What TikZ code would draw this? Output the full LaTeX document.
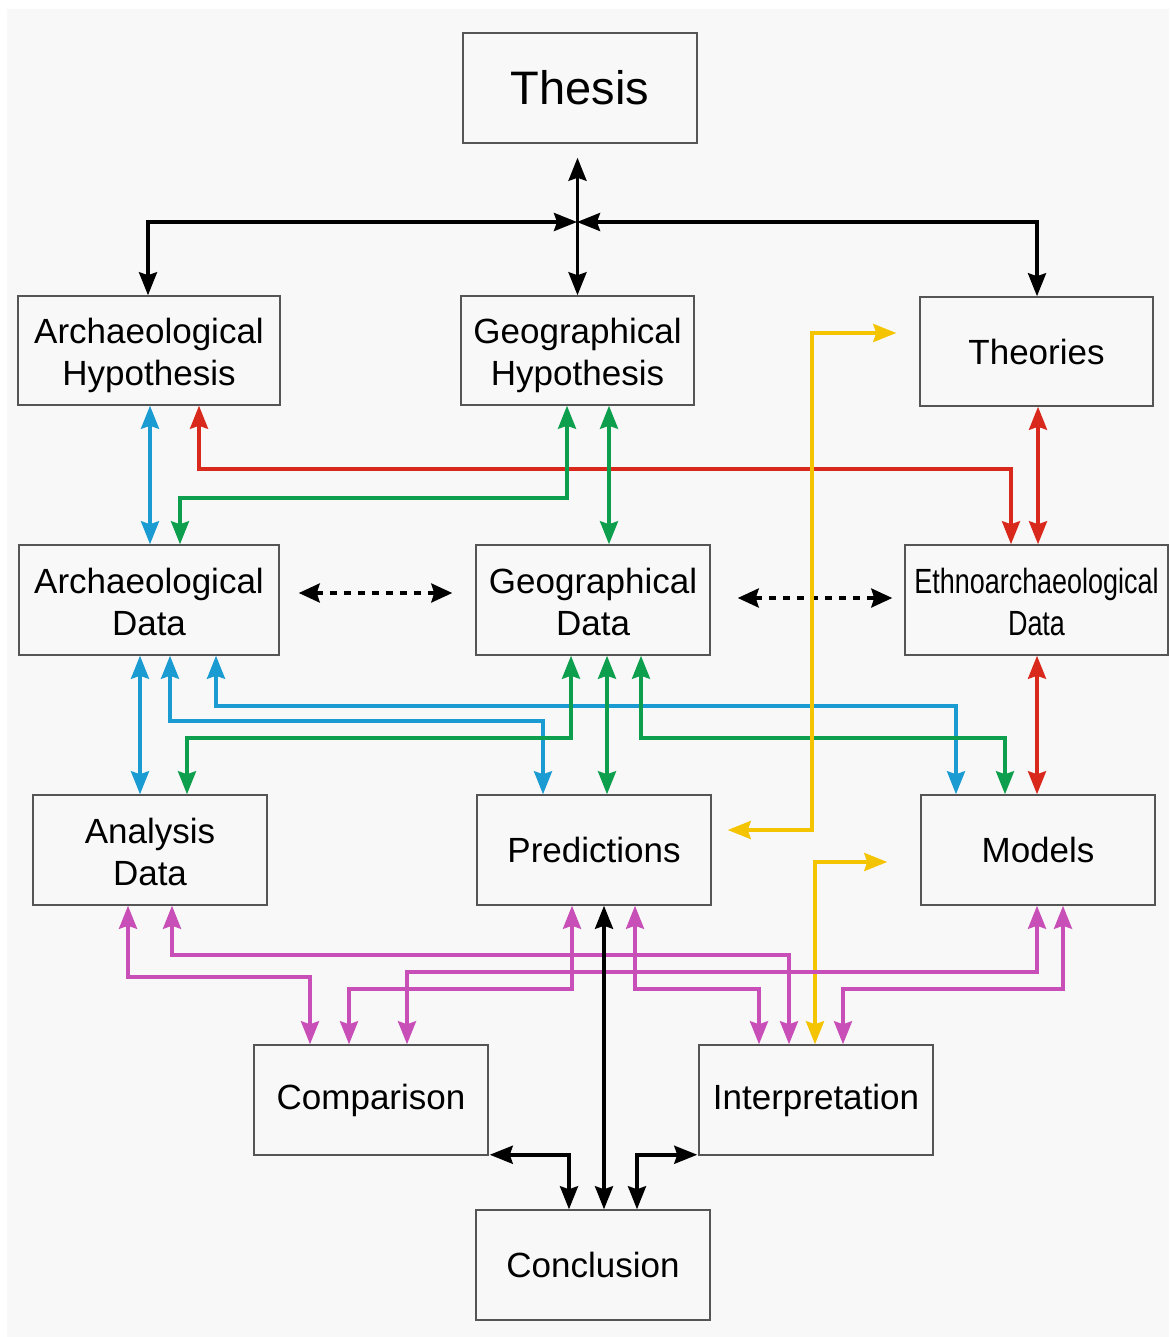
\documentclass[tikz,border=0pt]{standalone}
\usepackage{fontspec}
\setmainfont{Liberation Sans}
\usepackage{graphicx}
\usetikzlibrary{arrows.meta,calc}
\definecolor{bg}{HTML}{F8F8F8}
\definecolor{boxline}{HTML}{555555}
\definecolor{cblue}{HTML}{1A9CD3}
\definecolor{cred}{HTML}{D9291C}
\definecolor{cgreen}{HTML}{0E9F4E}
\definecolor{cyellow}{HTML}{F5C400}
\definecolor{cmag}{HTML}{C94FB8}
\newcommand\twolines[2]{\raisebox{-6pt}[\height][\depth]{\begin{tabular}{@{}c@{}}#1\\#2\end{tabular}}}
\tikzset{
  >={Stealth[length=23pt,width=18pt,inset=3pt]},
  box/.style={draw=boxline, line width=1.5pt, fill=bg, inner sep=0pt,
    minimum width=234pt, minimum height=110pt, align=center,
    font=\fontsize{35}{42}\selectfont},
  conn/.style={line width=3.5pt, <->},
  lnblue/.style={conn, draw=cblue, color=cblue},
  lnred/.style={conn, draw=cred, color=cred},
  lngreen/.style={conn, draw=cgreen, color=cgreen},
  lnyellow/.style={conn, draw=cyellow, color=cyellow},
  lnmag/.style={conn, draw=cmag, color=cmag},
  lnblack/.style={conn, draw=black},
  lndash/.style={line width=3.5pt, <->, dash pattern=on 7pt off 7pt,
    >={Stealth[length=21pt,width=19pt,inset=3pt]}}
}
\begin{document}
\begin{tikzpicture}[x=1pt,y=-1pt]
\useasboundingbox (0,0) rectangle (1169,1337);
\fill[white] (0,0) rectangle (1169,1337);
\fill[bg] (7,9) rectangle (1169,1337);

% nodes
\node[box, font=\fontsize{47}{56}\selectfont] (th) at (580,88) {Thesis};
\node[box, minimum width=262pt, minimum height=109pt] (ah) at (149,350.5) {\twolines{Archaeological}{Hypothesis}};
\node[box, minimum width=233pt, minimum height=109pt] (gh) at (577.5,350.5) {\twolines{Geographical}{Hypothesis}};
\node[box, minimum width=233pt, minimum height=109pt] (to) at (1036.5,351.5) {Theories};
\node[box, minimum width=260pt] (ad) at (149,600) {\twolines{Archaeological}{Data}};
\node[box] (gd) at (593,600) {\twolines{Geographical}{Data}};
\node[box, minimum width=263pt] (ed) at (1036.5,600) {\twolines{\scalebox{0.77}[1]{Ethnoarchaeological}}{\scalebox{0.77}[1]{Data}}};
\node[box] (an) at (150,850) {\twolines{Analysis}{Data}};
\node[box] (pr) at (594,850) {Predictions};
\node[box] (mo) at (1038,850) {Models};
\node[box] (co) at (371,1100) {Comparison};
\node[box] (in) at (816,1100) {Interpretation};
\node[box] (cl) at (593,1265) {Conclusion};

% top black
\coordinate (j) at (577,222);
\draw[lnblack] ($(ah.north)+(-1,0)$) |- (j);
\draw[lnblack] ($(to.north)+(0.5,0)$) |- (j);
\draw[lnblack] ($(gh.north |- th.south)+(0,14)$) -- (gh.north);

% hypothesis -> data
\draw[lnblue] ($(ah.south)+(1,0)$) -- ($(ad.north)+(1,0)$);
\draw[lnred] ($(ah.south)+(50,0)$) -- ++(0,63) -| ($(ed.north)+(-25.5,0)$);
\draw[lngreen] ($(gh.south)+(-10.5,0)$) -- ++(0,92) -| ($(ad.north)+(31,0)$);
\draw[lngreen] ($(gh.south)+(31.5,0)$) -- ($(gd.north)+(16,0)$);
\draw[lnred] ($(to.south)+(1.5,0)$) -- ($(ed.north)+(1.5,0)$);

% dashed
\draw[lndash] ($(ad.east)+(19,-7)$) -- ($(gd.west)+(-23,-7)$);
\draw[lndash] ($(gd.east)+(27,-2)$) -- ($(ed.west)+(-12,-2)$);

% data -> analysis/predictions/models
\draw[lnblue] ($(ad.south)+(-9,0)$) -- ($(an.north)+(-10,0)$);
\draw[lnblue] ($(ad.south)+(21,0)$) -- ++(0,65) -| ($(pr.north)+(-51,0)$);
\draw[lnblue] ($(ad.south)+(67,0)$) -- ++(0,50) -| ($(mo.north)+(-82,0)$);
\draw[lngreen] ($(gd.south)+(-22,0)$) -- ++(0,82) -| ($(an.north)+(37,0)$);
\draw[lngreen] ($(gd.south)+(14,0)$) -- ($(pr.north)+(13,0)$);
\draw[lngreen] ($(gd.south)+(48,0)$) -- ++(0,82) -| ($(mo.north)+(-33,0)$);
\draw[lnred] ($(ed.south)+(0.5,0)$) -- ($(mo.north)+(-1,0)$);

% yellow
\draw[lnyellow] ($(pr.east)+(16,-20)$) -- ++(84,0) |- ($(to.west)+(-23,-18.5)$);
\draw[lnyellow] ($(in.north)+(-1,0)$) |- ($(mo.west)+(-33,12)$);

% magenta
\draw[lnmag] ($(an.south)+(-22,0)$) -- ++(0,71) -| ($(co.north)+(-61,0)$);
\draw[lnmag] ($(an.south)+(22,0)$) -- ++(0,49) -| ($(in.north)+(-27,0)$);
\draw[lnmag] ($(pr.south)+(-22,0)$) -- ++(0,83) -| ($(co.north)+(-22,0)$);
\draw[lnmag] ($(mo.south)+(-1,0)$) -- ++(0,66) -| ($(co.north)+(36,0)$);
\draw[lnmag] ($(pr.south)+(41,0)$) -- ++(0,83) -| ($(in.north)+(-57,0)$);
\draw[lnmag] ($(mo.south)+(25,0)$) -- ++(0,83) -| ($(in.north)+(27,0)$);

% bottom black
\draw[lnblack] ($(pr.south)+(10,0)$) -- ($(cl.north)+(11,0)$);
\draw[lnblack] ($(co.south east)+(1,-1)$) -| ($(cl.north)+(-24,0)$);
\draw[lnblack] ($(in.south west)+(-1,-1)$) -| ($(cl.north)+(44,0)$);
\end{tikzpicture}
\end{document}
